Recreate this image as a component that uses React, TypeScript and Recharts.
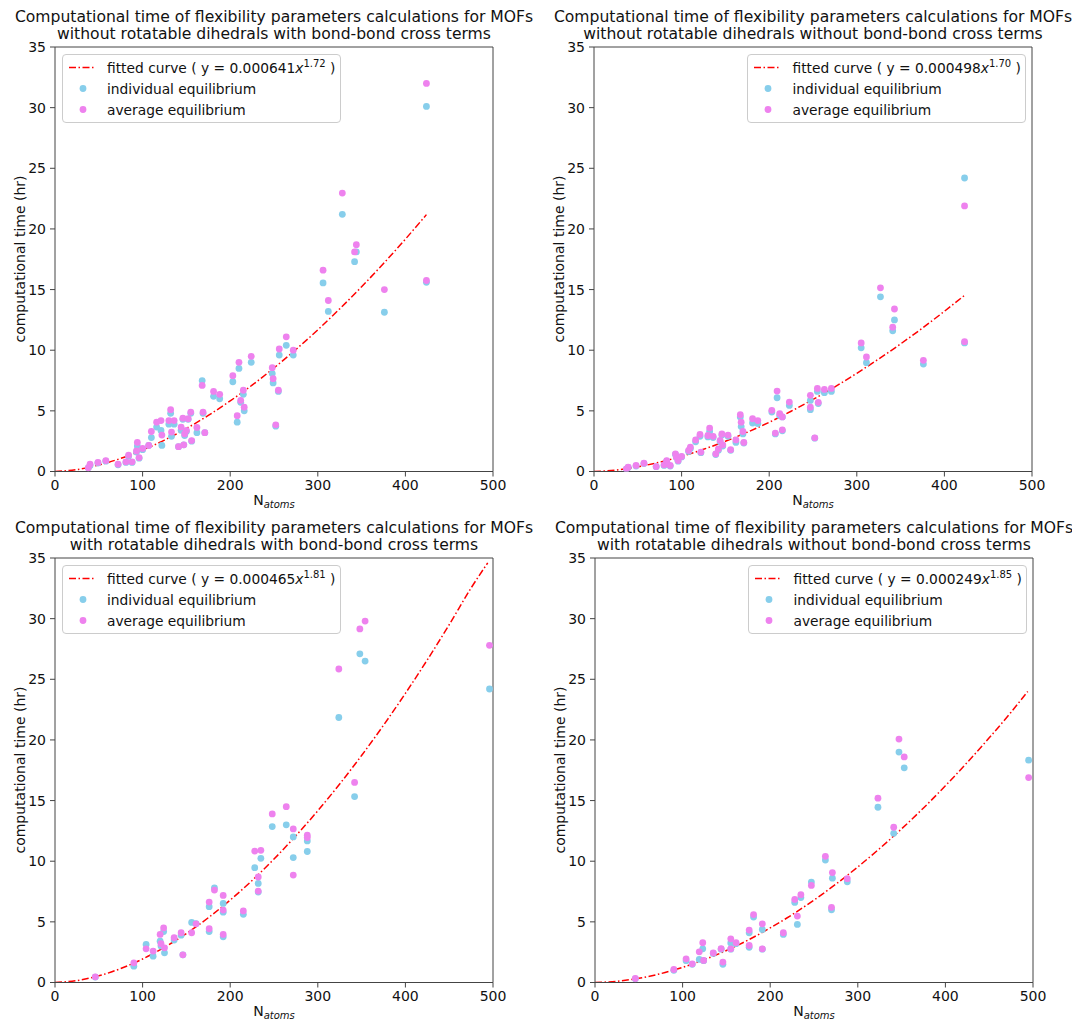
import React from 'react';
import { ComposedChart, Scatter, Line, XAxis, YAxis, ReferenceLine } from 'recharts';

// ---------- Panel 1: without rotatable dihedrals, with bond-bond cross terms ----------
const p1N = [38,40,49,58,72,81,84,88,93,94,96,100,107,110,116,121,122,130,132,133,136,141,144,146,147,148,150,152,155,156,162,168,169,171,181,188,203,208,210,212,215,216,224,248,249,252,255,256,264,272,306,312,328,342,344,376,424,424];
const p1Ind = [0.3,0.5,0.7,0.85,0.55,0.75,1.25,0.75,1.6,2.1,1.1,1.8,2.15,2.8,3.66,3.38,2.15,3.9,4.8,2.9,3.9,2.05,3.4,4.3,2.2,2.97,3.3,4.3,4.8,2.5,3.2,7.5,4.8,3.2,6.2,6.0,7.4,4.07,8.5,5.7,6.36,5.0,9.0,8.07,7.3,3.74,6.6,9.6,10.4,9.6,15.55,13.2,21.2,17.3,18.1,13.13,30.1,15.6];
const p1Avg = [0.3,0.6,0.75,0.9,0.6,0.8,1.35,0.8,1.7,2.4,1.15,1.9,2.15,3.3,4.07,4.2,3.0,4.2,5.1,3.25,4.2,2.05,3.66,4.4,2.2,3.1,3.38,4.35,4.9,2.55,3.63,7.1,4.9,3.2,6.6,6.36,7.9,4.6,9.0,5.86,6.7,5.3,9.5,8.56,7.65,3.85,6.7,10.1,11.1,10.0,16.6,14.1,22.96,18.1,18.7,15.0,32.0,15.75];
const p1FitN = [0,25,50,75,100,125,150,175,200,225,250,275,300,325,350,375,400,424];
const p1FitY = [0,0.16,0.54,1.08,1.77,2.59,3.55,4.62,5.82,7.12,8.54,10.06,11.68,13.41,15.23,17.15,19.16,21.18];

// ---------- Panel 2: without rotatable dihedrals, without bond-bond cross terms ----------
const p2N = [37,39,48,57,71,80,83,87,93,94,96,100,108,110,116,121,122,130,132,136,139,142,144,146,147,153,156,162,167,168,170,171,181,187,203,207,209,212,215,215,223,247,247,252,255,256,263,271,305,311,327,341,343,376,423,423];
const p2Ind = [0.2,0.33,0.45,0.65,0.4,0.5,0.85,0.45,1.4,1.15,0.85,1.2,1.65,1.9,2.45,2.9,1.55,2.85,3.3,2.8,1.4,1.75,2.45,3.0,2.1,2.9,1.75,2.4,4.5,3.7,3.1,2.35,4.0,3.95,4.9,3.1,6.08,4.6,4.5,3.35,5.45,5.86,5.1,2.75,6.6,5.6,6.5,6.6,10.2,8.97,14.4,11.6,12.5,8.86,24.2,10.6];
const p2Avg = [0.22,0.36,0.5,0.69,0.41,0.55,0.9,0.5,1.46,1.2,0.9,1.24,1.73,2.0,2.6,3.05,1.6,2.97,3.58,2.9,1.46,1.86,2.56,3.1,2.2,3.0,1.8,2.6,4.68,4.07,3.3,2.4,4.35,4.2,5.04,3.17,6.63,4.77,4.5,3.44,5.72,6.28,5.3,2.78,6.85,5.7,6.77,6.85,10.6,9.44,15.14,11.9,13.4,9.17,21.9,10.7];
const p2FitN = [0,25,50,75,100,125,150,175,200,225,250,275,300,325,350,375,400,424];
const p2FitY = [0,0.12,0.39,0.77,1.25,1.83,2.49,3.24,4.06,4.97,5.94,6.98,8.10,9.28,10.52,11.83,13.21,14.58];

// ---------- Panel 3: with rotatable dihedrals, with bond-bond cross terms ----------
const p3N = [46,90,104,112,120,121,124,125,136,144,146,156,161,176,176,182,192,192,192,215,228,232,232,235,248,264,272,272,288,288,324,342,348,354,496];
const p3Ind = [0.45,1.35,3.14,2.17,3.41,3.0,4.2,2.45,3.5,3.9,2.28,4.95,4.85,6.25,4.2,7.8,6.52,5.8,3.77,5.62,9.47,8.17,7.46,10.24,12.86,13.0,12.0,10.3,11.67,10.8,21.85,15.33,27.1,26.5,24.2];
const p3Avg = [0.47,1.62,2.78,2.59,3.96,3.2,4.5,2.86,3.69,4.1,2.28,4.1,4.84,6.63,4.43,7.62,7.18,5.97,3.96,5.9,10.84,8.7,7.54,10.9,13.9,14.5,12.66,8.86,12.14,11.95,25.85,16.5,29.15,29.8,27.8];
const p3FitN = [0,25,50,75,100,125,150,175,200,225,250,275,300,325,350,375,400,425,450,475,494];
const p3FitY = [0,0.16,0.55,1.15,1.94,2.90,4.04,5.34,6.80,8.41,10.18,12.10,14.16,16.37,18.72,21.21,23.84,26.60,29.50,32.53,34.6];

// ---------- Panel 4: with rotatable dihedrals, without bond-bond cross terms ----------
const p4N = [46,90,104,111,119,123,124,135,144,146,155,155,161,176,176,181,191,191,215,228,231,235,247,263,270,271,288,323,341,347,353,495];
const p4Ind = [0.3,1.0,1.8,1.5,1.9,2.78,1.8,2.4,2.75,1.5,3.26,2.75,3.2,4.1,2.9,5.4,4.37,2.75,3.96,6.6,4.79,7.0,8.28,10.1,6.0,8.6,8.3,14.45,12.3,19.0,17.7,18.33];
const p4Avg = [0.33,1.07,1.95,1.54,2.53,3.28,1.82,2.45,2.8,1.68,3.6,2.78,3.28,4.32,3.05,5.6,4.84,2.78,4.1,6.85,5.48,7.24,8.0,10.4,6.2,9.06,8.56,15.2,12.8,20.07,18.6,16.9];
const p4FitN = [0,25,50,75,100,125,150,175,200,225,250,275,300,325,350,375,400,425,450,475,494];
const p4FitY = [0,0.10,0.35,0.73,1.25,1.89,2.64,3.51,4.50,5.59,6.80,8.11,9.53,11.05,12.67,14.39,16.22,18.15,20.17,22.29,24.0];

// ---------- Text ----------
const titleLine1 = 'Computational time of flexibility parameters calculations for MOFs';
const titleLines2 = [
  'without rotatable dihedrals with bond-bond cross terms',
  'without rotatable dihedrals without bond-bond cross terms',
  'with rotatable dihedrals with bond-bond cross terms',
  'with rotatable dihedrals without bond-bond cross terms',
];
const fitCoefs = ['0.000641', '0.000498', '0.000465', '0.000249'];
const fitExps = ['1.72', '1.70', '1.81', '1.85'];
const xTicks = [0, 100, 200, 300, 400, 500];
const yTicks = [0, 5, 10, 15, 20, 25, 30, 35];
const seriesNames = ['individual equilibrium', 'average equilibrium'];
const yLabel = 'computational time (hr)';

const BLUE = '#87CEEB';
const VIOLET = '#EE82EE';
const RED = '#ff0000';
const SPINE = '#444';
const FONT = '"DejaVu Sans", sans-serif';

const CHART_W = 536;
const CHART_H = 510;
const MARGIN = { top: 47, right: 43, bottom: 8.5, left: 0 };
const YAXIS_W = 55;
const PLOT_W = 438;
const PLOT_H = 424.5;

const toPts = (xs: number[], ys: number[]) => xs.map((x, i) => ({ x, y: ys[i] }));

const Dot = (color: string) => (p: any) =>
  p.cx == null ? null : <circle cx={p.cx} cy={p.cy} r={3.4} fill={color} stroke="none" />;

type PanelProps = {
  L: number; T: number; idx: number; legendRight: boolean;
  n: number[]; ind: number[]; avg: number[]; fitN: number[]; fitY: number[];
};

function Panel({ L, T, idx, legendRight, n, ind, avg, fitN, fitY }: PanelProps) {
  const plotL = L + MARGIN.left + YAXIS_W;
  const plotT = T + MARGIN.top;
  const cx = plotL + PLOT_W / 2;
  const legendStyle: React.CSSProperties = {
    position: 'absolute',
    top: plotT + 7,
    background: 'rgba(255,255,255,0.85)',
    border: '1px solid #cccccc',
    borderRadius: 4,
    padding: '2px 4px 2px 0',
    fontSize: 13.8,
    fontFamily: FONT,
    color: '#111',
    whiteSpace: 'nowrap',
  };
  if (legendRight) legendStyle.right = 1072 - (plotL + PLOT_W - 6);
  else legendStyle.left = plotL + 7;
  const row: React.CSSProperties = { display: 'flex', alignItems: 'center', height: 21 };
  return (
    <>
      <div style={{ position: 'absolute', left: L, top: T }}>
        <ComposedChart width={CHART_W} height={CHART_H} margin={MARGIN}>
          <XAxis
            dataKey="x" type="number" domain={[0, 500]} ticks={xTicks} height={30}
            allowDataOverflow
            tick={{ fontSize: 14, fill: '#111', fontFamily: FONT }}
            tickSize={5} tickMargin={4}
            stroke={SPINE}
          />
          <YAxis
            dataKey="y" type="number" domain={[0, 35]} ticks={yTicks} width={YAXIS_W}
            allowDataOverflow
            tick={{ fontSize: 14, fill: '#111', fontFamily: FONT }}
            tickSize={5} tickMargin={4}
            stroke={SPINE}
          />
          <ReferenceLine y={35} stroke={SPINE} />
          <ReferenceLine x={500} stroke={SPINE} />
          <Line
            data={toPts(fitN, fitY)} dataKey="y" type="monotone" dot={false}
            stroke={RED} strokeWidth={1.5} strokeDasharray="7 2.5 1.5 2.5"
            isAnimationActive={false}
          />
          <Scatter data={toPts(n, ind)} dataKey="y" shape={Dot(BLUE)} isAnimationActive={false} />
          <Scatter data={toPts(n, avg)} dataKey="y" shape={Dot(VIOLET)} isAnimationActive={false} />
        </ComposedChart>
      </div>
      {/* title */}
      <div style={{
        position: 'absolute', left: cx - 300, width: 600, top: plotT - 38,
        textAlign: 'center', fontSize: 15.6, lineHeight: '17px', fontFamily: FONT, color: '#111',
      }}>
        <div>{titleLine1}</div>
        <div>{titleLines2[idx]}</div>
      </div>
      {/* y label */}
      <div style={{
        position: 'absolute', left: L + 20, top: plotT + PLOT_H / 2,
        transform: 'translate(-50%, -50%) rotate(-90deg)', whiteSpace: 'nowrap',
        fontSize: 14, fontFamily: FONT, color: '#111',
      }}>{yLabel}</div>
      {/* x label */}
      <div style={{
        position: 'absolute', left: cx, top: plotT + PLOT_H + 29,
        transform: 'translate(-50%, -50%)', whiteSpace: 'nowrap',
        fontSize: 14, lineHeight: '16px', fontFamily: FONT, color: '#111',
      }}>N<span style={{ fontSize: 10, fontStyle: 'italic', position: 'relative', top: 3 }}>atoms</span></div>
      {/* legend */}
      <div style={legendStyle}>
        <div style={row}>
          <svg width={44} height={21} style={{ flex: 'none' }}>
            <line x1={6} y1={10.5} x2={31} y2={10.5} stroke={RED} strokeWidth={1.5} strokeDasharray="7 2.5 1.5 2.5" />
          </svg>
          <span>fitted curve ( y = {fitCoefs[idx]}<i>x</i><span style={{ fontSize: 10, position: 'relative', top: -6 }}>{fitExps[idx]}</span> )</span>
        </div>
        <div style={row}>
          <svg width={44} height={21} style={{ flex: 'none' }}>
            <circle cx={20} cy={10.5} r={3.4} fill={BLUE} />
          </svg>
          <span>{seriesNames[0]}</span>
        </div>
        <div style={row}>
          <svg width={44} height={21} style={{ flex: 'none' }}>
            <circle cx={20} cy={10.5} r={3.4} fill={VIOLET} />
          </svg>
          <span>{seriesNames[1]}</span>
        </div>
      </div>
    </>
  );
}

export default function App() {
  return (
    <div style={{ position: 'absolute', left: 0, top: 0, width: 1072, height: 1019, background: '#fff', overflow: 'hidden' }}>
      <Panel L={0} T={0} idx={0} legendRight={false} n={p1N} ind={p1Ind} avg={p1Avg} fitN={p1FitN} fitY={p1FitY} />
      <Panel L={539} T={0} idx={1} legendRight={true} n={p2N} ind={p2Ind} avg={p2Avg} fitN={p2FitN} fitY={p2FitY} />
      <Panel L={0} T={511} idx={2} legendRight={false} n={p3N} ind={p3Ind} avg={p3Avg} fitN={p3FitN} fitY={p3FitY} />
      <Panel L={540} T={511} idx={3} legendRight={true} n={p4N} ind={p4Ind} avg={p4Avg} fitN={p4FitN} fitY={p4FitY} />
    </div>
  );
}
